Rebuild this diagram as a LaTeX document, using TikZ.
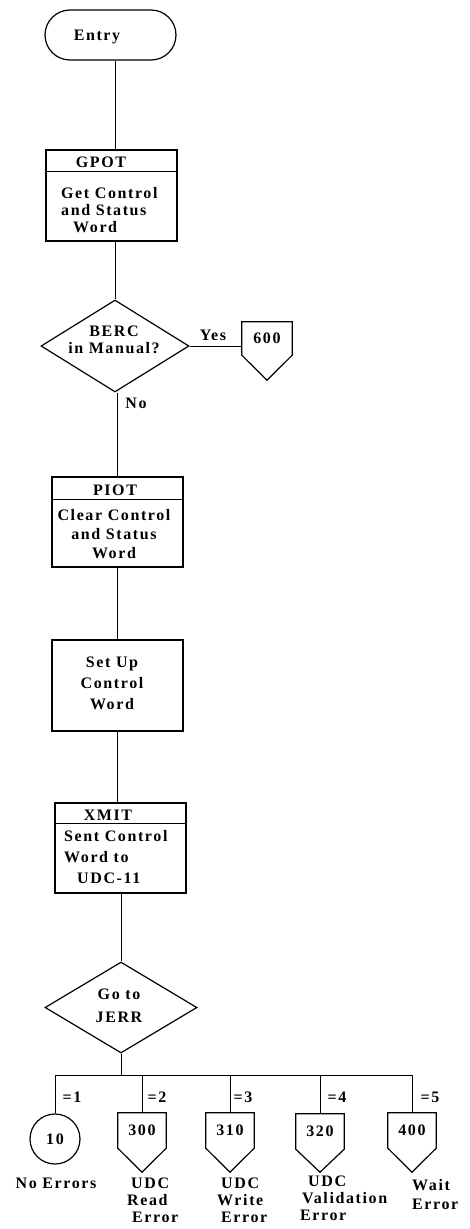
\documentclass[tikz,border=0pt]{standalone}
\usepackage{fontspec}
\setmainfont{Liberation Serif}[LetterSpace=10]
\usetikzlibrary{shapes.geometric,shapes.misc}
\newcommand\myoffpage[2]{\draw[shp] (#1.north west) -- (#1.north east) -- (#1.south east) -- ([yshift=-#2pt]#1.south) -- (#1.south west) -- cycle;}
\begin{document}
\begin{tikzpicture}[x=1pt,y=-1pt,
  every node/.style={font=\fontsize{16}{17}\selectfont\bfseries, inner sep=0pt},
  shp/.style={draw, line width=1.2pt},
  conn/.style={line width=1pt},
  procbox/.style={shp, rectangle, minimum width=131pt, minimum height=90pt},
  decision/.style={shp, diamond, minimum width=148pt, minimum height=92pt},
  offpage/.style={rectangle, minimum width=48pt, minimum height=35pt},
  sp17/.style={font=\fontsize{16}{17}\selectfont\bfseries},
  sp19/.style={font=\fontsize{16}{19}\selectfont\bfseries},
  sp21/.style={font=\fontsize{16}{21}\selectfont\bfseries},
  sp23/.style={font=\fontsize{16}{23}\selectfont\bfseries},
]
\useasboundingbox (0,0) rectangle (469,1229);
\fill[white] (0,0) rectangle (469,1229);

% Entry
\node[shp, rounded rectangle, minimum width=131pt, minimum height=50pt] (entry) at (110.5,35) {};
\node (entrytxt) at (97,37) {Entry};

% GPOT
\node[procbox, minimum height=91pt] (gpot) at (111.5,195.5) {};
\draw[shp] ([yshift=-22pt]gpot.north west) -- ([yshift=-22pt]gpot.north east);
\node (gpothd) at (101,162) {GPOT};
\node[sp17, align=left, anchor=west] (gpotbody) at (61,210) {Get Control\\and Status\\\hspace*{12pt}Word};

% BERC decision
\node[decision] (berc) at (115,346) {};
\node[sp17, align=center] (berctxt) at (114,340) {BERC\\in Manual?};
\node[offpage, minimum width=50pt, minimum height=33pt] (c600) at (267,338.5) {600};
\myoffpage{c600}{25}
\node (yes) at (213,335) {Yes};
\node (no) at (136,403) {No};

% PIOT
\node[procbox] (piot) at (117.5,522) {};
\draw[shp] ([yshift=-23pt]piot.north west) -- ([yshift=-23pt]piot.north east);
\node (piothd) at (115,490) {PIOT};
\node[sp19, align=center] (piotbody) at (114,534) {Clear Control\\and Status\\Word};

% Set Up
\node[procbox, minimum height=91pt] (setup) at (117.5,685.5) {};
\node[sp21, align=center] (setuptxt) at (112,683) {Set Up\\Control\\Word};

% XMIT
\node[procbox] (xmit) at (120.5,848) {};
\draw[shp] ([yshift=-21pt]xmit.north west) -- ([yshift=-21pt]xmit.north east);
\node (xmithd) at (108,815) {XMIT};
\node[sp21, align=left, anchor=west] (xmitbody) at (64,857) {Sent Control\\Word to\\\hspace*{13pt}UDC-11};

% JERR decision
\node[decision, minimum width=152pt, minimum height=91pt] (jerr) at (121,1007.5) {};
\node[sp23, align=center] (jerrtxt) at (119,1006) {Go to\\JERR};

% branch targets
\node[shp, circle, minimum size=50pt] (c10) at (55,1139) {10};
\node[offpage] (c300) at (142,1130.5) {300};
\node[offpage] (c310) at (230,1130.5) {310};
\node[offpage] (c320) at (320,1131.5) {320};
\node[offpage] (c400) at (412,1130.5) {400};
\myoffpage{c300}{24}
\myoffpage{c310}{24}
\myoffpage{c320}{23}
\myoffpage{c400}{24}

\coordinate (busL) at (55,1075);
\coordinate (busR) at (412,1075);

% connectors
\draw[conn] (entry.south -| berc.north) -- (gpot.north -| berc.north);
\draw[conn] (gpot.south -| berc.north) -- (berc.north);
\draw[conn] (berc.east) -- (berc.east -| c600.west);
\draw[conn] (piot.north |- berc.south) -- (piot.north);
\draw[conn] (piot.south) -- (setup.north);
\draw[conn] (setup.south) -- (setup.south |- xmit.north);
\draw[conn] (jerr.north |- xmit.south) -- (jerr.north);
\draw[conn] (jerr.south) -- (jerr.south |- busL);
\draw[conn] (busL) -- (busR);
\draw[conn] (c10.north |- busL) -- (c10.north);
\draw[conn] (c300.north |- busL) -- (c300.north);
\draw[conn] (c310.north |- busL) -- (c310.north);
\draw[conn] (c320.north |- busL) -- (c320.north);
\draw[conn] (c400.north |- busL) -- (c400.north);

% branch labels
\node (e1) at (72,1097) {=1};
\node (e2) at (157,1097) {=2};
\node (e3) at (243,1097) {=3};
\node (e4) at (337,1097) {=4};
\node (e5) at (430,1097) {=5};

% captions
\node (lbl10) at (56,1183) {No Errors};
\node[sp17, align=left, anchor=west] (lbl300) at (127,1200) {\hspace*{4pt}UDC\\Read\\\hspace*{5pt}Error};
\node[sp17, align=left, anchor=west] (lbl310) at (217,1200) {\hspace*{4pt}UDC\\Write\\\hspace*{4pt}Error};
\node[sp17, align=left, anchor=west] (lbl320) at (300,1198) {\hspace*{8pt}UDC\\\hspace*{2pt}Validation\\Error};
\node[sp19, align=left, anchor=west] (lbl400) at (412,1195) {Wait\\Error};
\end{tikzpicture}
\end{document}
